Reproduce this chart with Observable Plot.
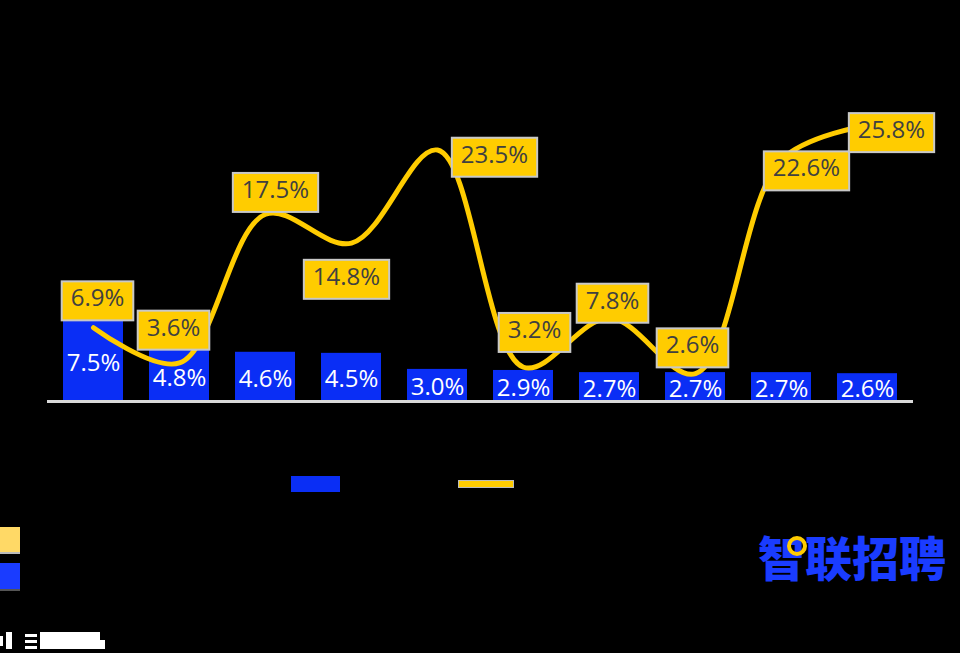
<!DOCTYPE html>
<html><head><meta charset="utf-8">
<script src="https://cdn.jsdelivr.net/npm/d3@7"></script>
<script src="https://cdn.jsdelivr.net/npm/@observablehq/plot@0.6"></script>
<style>
html,body{margin:0;padding:0;background:#000;}
#wrap{position:relative;width:960px;height:653px;overflow:hidden;background:#000;}
.abs{position:absolute;}
#logo{position:absolute;left:758px;top:526px;font-family:"Noto Sans CJK SC",sans-serif;font-weight:900;font-size:47px;color:#1a3cff;letter-spacing:0px;line-height:60px;white-space:nowrap;}
</style></head><body><div id="wrap"></div>
<script>
// ---- data ----
const categories = ["类别1","类别2","类别3","类别4","类别5","类别6","类别7","类别8","类别9","类别10"];
const shareValues = [7.5, 4.8, 4.6, 4.5, 3.0, 2.9, 2.7, 2.7, 2.7, 2.6];
const growthValues = [6.9, 3.6, 17.5, 14.8, 23.5, 3.2, 7.8, 2.6, 22.6, 25.8];

// label offsets (pixels) for growth labels
const labelOffsets = [[4,-29],[-6,-35],[10,-24],[-5,34],[57,5],[11,-37],[3,-17],[-3,-28],[25,9],[24,5]];

const data = categories.map((c, i) => ({cat: c, share: shareValues[i], growth: growthValues[i]}));

const BLUE = "#0a2ef5", YELLOW = "#ffcc00", LABEL = "#404040";
const fmt = v => v.toFixed(1) + "%";

const marks = [
  Plot.barY(data, {x: "cat", y: "share", fill: BLUE}),
  Plot.ruleY([0], {stroke: "#d9d9d9", strokeWidth: 3}),
  Plot.text(data, {x: "cat", y: d => d.share / 2, text: d => fmt(d.share), fill: "#fff", fontSize: 24, fontFamily: "Open Sans", dy: 2}),
  Plot.line(data, {x: "cat", y: "growth", curve: "catmull-rom", stroke: YELLOW, strokeWidth: 5, strokeLinecap: "round"}),
  ...data.map((d, i) => Plot.text([d], {x: "cat", y: "growth", text: e => fmt(e.growth), dx: labelOffsets[i][0], dy: labelOffsets[i][1], fill: LABEL, fontSize: 24, fontFamily: "Open Sans"}))
];

const chart = Plot.plot({
  width: 960, height: 653,
  marginTop: 80, marginBottom: 252, marginLeft: 47, marginRight: 47,
  style: {background: "#000"},
  x: {type: "band", domain: categories, paddingInner: 0.3, paddingOuter: 0.18, axis: null},
  y: {domain: [0, 30], axis: null},
  marks
});
const wrap = document.getElementById("wrap");
wrap.appendChild(chart);

// yellow boxes behind growth labels
const labelTexts = new Set();
chart.querySelectorAll("g").forEach(g => {
  if ((g.getAttribute("fill") || "").toLowerCase() === LABEL) g.querySelectorAll("text").forEach(t => labelTexts.add(t));
});
labelTexts.forEach(t => {
  const b = t.getBBox();
  const r = document.createElementNS("http://www.w3.org/2000/svg", "rect");
  r.setAttribute("x", b.x - 9);
  r.setAttribute("y", b.y + 1);
  r.setAttribute("width", b.width + 18);
  r.setAttribute("height", b.height + 6);
  r.setAttribute("fill", YELLOW);
  r.setAttribute("stroke", "#c8c8c8");
  r.setAttribute("stroke-width", 2);
  if (t.getAttribute("transform")) r.setAttribute("transform", t.getAttribute("transform"));
  t.parentNode.insertBefore(r, t);
});

// legend and decorations (HTML overlays)
function box(l, t, w, h, bg, extra) {
  const d = document.createElement("div");
  d.className = "abs";
  d.style.cssText = `left:${l}px;top:${t}px;width:${w}px;height:${h}px;background:${bg};${extra || ""}`;
  wrap.appendChild(d);
  return d;
}
box(291, 476, 49, 16, BLUE);
box(459, 481, 54, 6, YELLOW, "outline:1px solid #bbb;");
box(0, 527, 20, 25, "#ffd966", "border-bottom:2px solid #bbb;");
box(0, 563, 20, 26, "#1a3cff", "border-bottom:2px solid #555;");
// small white caption blocks
box(0, 636, 3, 10, "#fff");
box(6, 632, 6, 17, "#fff");
box(25, 634, 12, 3, "#fff"); box(25, 640, 12, 3, "#fff"); box(25, 646, 12, 3, "#fff");
box(40, 632, 60, 17, "#fff");
box(100, 640, 5, 9, "#fff");

const logo = document.createElement("div");
logo.id = "logo";
logo.textContent = "智联招聘";
wrap.appendChild(logo);
box(787, 536, 12, 12, "transparent", "border:4px solid #ffcc00;border-radius:50%;");
</script>
</body></html>
